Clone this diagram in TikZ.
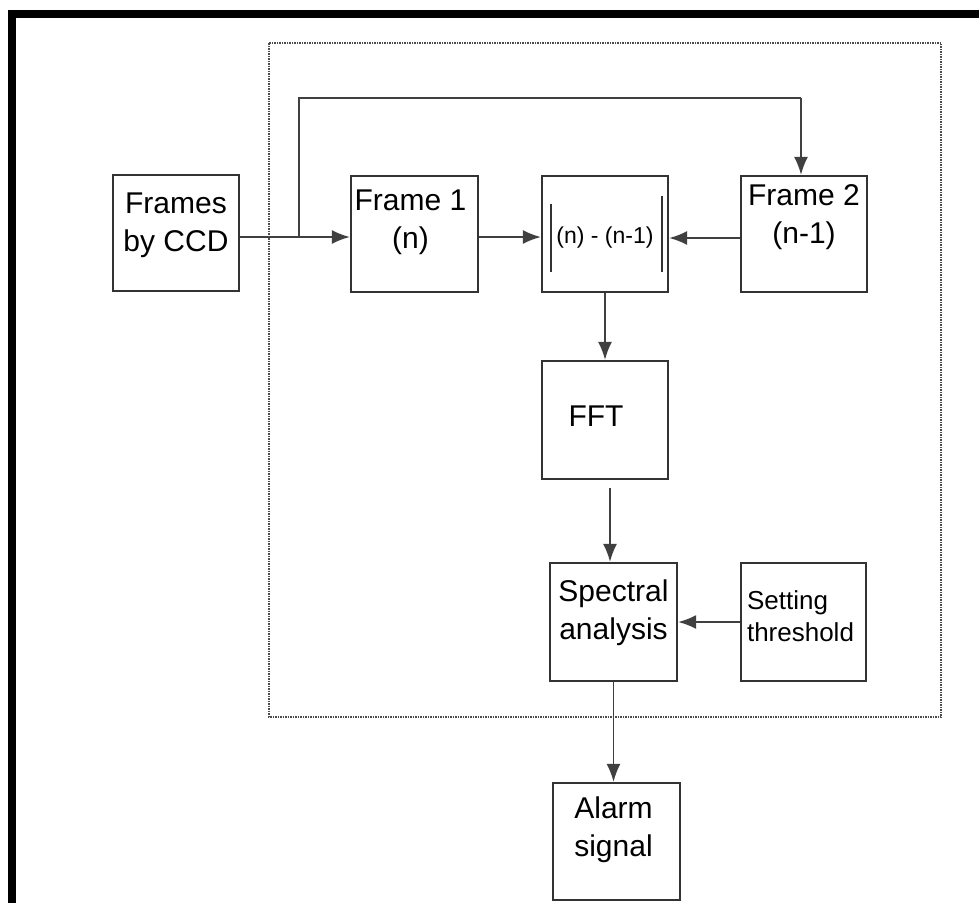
\documentclass[tikz,border=0pt]{standalone}
\usepackage{fontspec}
\setmainfont{Liberation Sans}
\usetikzlibrary{arrows.meta}
\begin{document}
\begin{tikzpicture}[x=1pt,y=-1pt,
  blk/.style={draw=black!80, line width=2.4pt, fill=none, inner sep=0pt},
  txt/.style={font=\fontsize{30}{38}\selectfont, align=center, text=black},
  arr/.style={draw=black!75, line width=1.6pt, -{Latex[length=18pt,width=14pt]}},
  ln/.style={draw=black!75, line width=1.6pt}]
\useasboundingbox (0,0) rectangle (979,903);
% outer frame (top and left only)
\fill[black] (8,10) rectangle (979,18);
\fill[black] (8,10) rectangle (16,903);
% dotted region
\draw[black!70, line width=2pt, dash pattern=on 1.5pt off 1pt] (269,43) rectangle (941,717);
% boxes
\node[blk, minimum width=126pt, minimum height=116pt,
  label={[txt, yshift=8pt]center:{Frames\\by CCD}}] (ccd) at (176,233) {};
\node[blk, minimum width=127pt, minimum height=116pt,
  label={[txt, yshift=12pt, xshift=-4pt]center:{Frame 1\\(n)}}] (f1) at (414.5,234) {};
\node[blk, minimum width=126pt, minimum height=116pt,
  label={[txt, font=\fontsize{23}{28}\selectfont, yshift=-4pt]center:{(n) - (n-1)}}] (diff) at (605,234) {};
\node[blk, minimum width=126pt, minimum height=116pt,
  label={[txt, yshift=17pt]center:{Frame 2\\(n-1)}}] (f2) at (804,234) {};
\node[blk, minimum width=126pt, minimum height=118pt,
  label={[txt, yshift=4pt, xshift=-9pt]center:{FFT}}] (fft) at (605,420) {};
\node[blk, minimum width=127pt, minimum height=118pt,
  label={[txt, yshift=9pt]center:{Spectral\\analysis}}] (spec) at (613.5,622) {};
\node[blk, minimum width=125pt, minimum height=118pt,
  label={[txt, align=left, font=\fontsize{26}{32}\selectfont, yshift=6pt, xshift=-3pt]center:{Setting\\threshold}}] (thr) at (803.5,622) {};
\node[blk, minimum width=127pt, minimum height=117pt,
  label={[txt, yshift=12pt, xshift=-3pt]center:{Alarm\\signal}}] (alarm) at (616.5,841.5) {};
% abs bars
\draw[black!80, line width=1.6pt] (551,204) -- (551,272);
\draw[black!80, line width=1.6pt] (662,196) -- (662,272);
% connectors
\coordinate (br) at (299,237);
\coordinate (fb) at (801,98);
\draw[arr] (ccd.east |- br) -- (f1.west |- br);
\draw[ln] (br) -- (br |- fb) -- (fb);
\draw[arr] (fb) -- (fb |- f2.north);
\draw[arr] ([yshift=-3pt]f1.east) -- ([yshift=-3pt]diff.west);
\draw[arr] ([yshift=-4pt]f2.west) -- ([yshift=-4pt]diff.east);
\draw[arr] (diff.south) -- (fft.north);
\draw[arr] ([xshift=5pt,yshift=-8pt]fft.south) -- ([xshift=5pt]fft.south |- spec.north);
\draw[arr] (thr.west) -- (spec.east);
\draw[arr] (spec.south) -- (spec.south |- alarm.north);
\end{tikzpicture}
\end{document}
